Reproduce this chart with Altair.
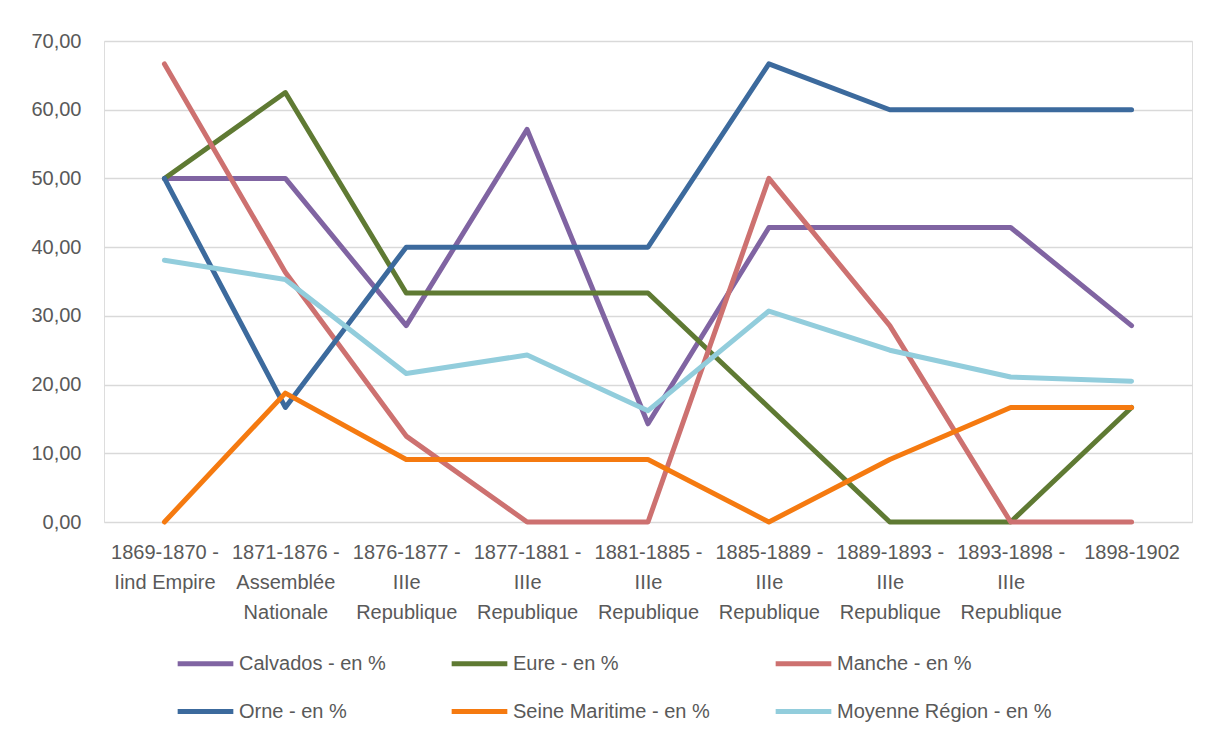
import altair as alt
import pandas as pd

categories = [
    "1869-1870 -\nIind Empire",
    "1871-1876 -\nAssemblée\nNationale",
    "1876-1877 -\nIIIe\nRepublique",
    "1877-1881 -\nIIIe\nRepublique ",
    "1881-1885 -\nIIIe\nRepublique  ",
    "1885-1889 -\nIIIe\nRepublique   ",
    "1889-1893 -\nIIIe\nRepublique    ",
    "1893-1898 -\nIIIe\nRepublique     ",
    "1898-1902",
]

series_names = [
    "Calvados - en %",
    "Eure - en %",
    "Manche - en %",
    "Orne - en %",
    "Seine Maritime - en %",
    "Moyenne Région - en %",
]

calvados = [50.00, 50.00, 28.57, 57.14, 14.29, 42.86, 42.86, 42.86, 28.57]
eure = [50.00, 62.50, 33.33, 33.33, 33.33, 16.67, 0.00, 0.00, 16.67]
manche = [66.67, 36.36, 12.50, 0.00, 0.00, 50.00, 28.57, 0.00, 0.00]
orne = [50.00, 16.67, 40.00, 40.00, 40.00, 66.67, 60.00, 60.00, 60.00]
seine = [0.00, 18.75, 9.09, 9.09, 9.09, 0.00, 9.09, 16.67, 16.67]
moyenne = [38.10, 35.30, 21.60, 24.30, 16.20, 30.70, 25.00, 21.10, 20.50]

colors = ["#8064A2", "#5F7A33", "#CD7170", "#3C6A9D", "#F57A10", "#92CDDC"]

all_values = [calvados, eure, manche, orne, seine, moyenne]
rows = []
for name, vals in zip(series_names, all_values):
    for i, (cat, v) in enumerate(zip(categories, vals)):
        rows.append({"periode": cat, "serie": name, "valeur": v, "ordre": i})
df = pd.DataFrame(rows)

FONT = "Liberation Sans"
FS = 20

chart = alt.Chart(df).mark_line(
    strokeWidth=5, strokeJoin="round", strokeCap="round"
).encode(
    x=alt.X(
        "periode:N",
        sort=categories,
        scale=alt.Scale(padding=0.5),
        axis=alt.Axis(
            title=None,
            labelAngle=0,
            labelExpr="split(datum.label, '\\n')",
            labelLineHeight=30,
            labelPadding=20,
            labelFontSize=FS,
            labelColor="#595959",
            labelFont=FONT,
            labelLimit=200,
            ticks=False,
            domain=False,
            grid=False,
        ),
    ),
    y=alt.Y(
        "valeur:Q",
        scale=alt.Scale(domain=[0, 70]),
        axis=alt.Axis(
            title=None,
            values=[0, 10, 20, 30, 40, 50, 60, 70],
            labelExpr="replace(format(datum.value, '.2f'), '.', ',')",
            labelFontSize=FS,
            labelColor="#595959",
            labelFont=FONT,
            labelPadding=23,
            ticks=False,
            domain=False,
            gridColor="#D9D9D9",
            gridWidth=1.5,
        ),
    ),
    color=alt.Color(
        "serie:N",
        sort=series_names,
        scale=alt.Scale(domain=series_names, range=colors),
        legend=alt.Legend(
            title=None,
            orient="none",
            legendX=71,
            legendY=592,
            direction="horizontal",
            columns=3,
            columnPadding=55,
            rowPadding=7,
            symbolType="stroke",
            symbolSize=3100,
            symbolStrokeWidth=5,
            labelFontSize=FS,
            labelColor="#595959",
            labelFont=FONT,
            labelOffset=3,
            labelLimit=300,
        ),
    ),
    order="ordre:Q",
).properties(
    width=1088,
    height=481,
    autosize=alt.AutoSizeParams(type="none"),
    padding={"left": 96, "top": 33, "right": 6, "bottom": 210},
).configure_view(
    stroke=None
).configure(
    background="white"
)

chart.save("out.html", embed_options={"renderer": "svg", "actions": False})
